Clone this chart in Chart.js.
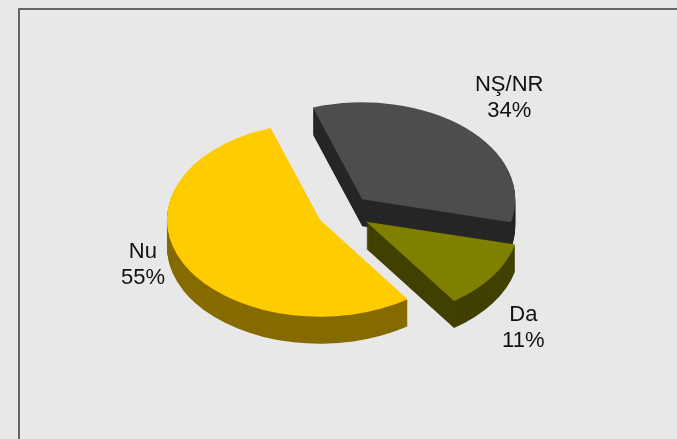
<!DOCTYPE html>
<html>
<head>
<meta charset="utf-8">
<style>
html,body{margin:0;padding:0;background:#e8e8e8;overflow:hidden}
#wrap{position:relative;width:677px;height:439px;overflow:hidden}
#frame{position:absolute;left:18px;top:8px;width:700px;height:500px;border:2px solid #666;box-sizing:border-box}
canvas{position:absolute;left:0;top:0}
</style>
</head>
<body>
<div id="wrap"><div id="frame"></div><canvas id="c" width="677" height="439"></canvas></div>
<script src="https://cdn.jsdelivr.net/npm/chart.js@4/dist/chart.umd.min.js"></script>
<script>
const categories = ['Da', 'Nu', 'NŞ/NR'];
const values = [11.5, 54.5, 34];
const percentLabels = ['11%', '55%', '34%'];
const topColors = ['#808000', '#FFCC00', '#4D4D4D'];
const wallColors = ['#404000', '#866B00', '#262626'];

const squash = 0.634;
const depth = 27;
const explode = 27;
const drawOrder = [2, 0, 1];
const labelShift = [[157, 93], [-177, 32], [147, -114]];

const pie3d = {
  id: 'pie3d',
  beforeDatasetDraw(chart, args) {
    const ctx = chart.ctx;
    const arcs = args.meta.data;
    const flat = (arc, dy, fn) => {
      const mid = (arc.startAngle + arc.endAngle) / 2;
      ctx.save();
      ctx.translate(Math.cos(mid) * explode, arc.y + Math.sin(mid) * explode * squash + dy);
      ctx.scale(1, squash);
      ctx.translate(0, -arc.y);
      fn();
      ctx.restore();
    };
    drawOrder.forEach(i => {
      const arc = arcs[i];
      const wall = Object.create(arc);
      wall.options = {...arc.options, backgroundColor: wallColors[i], borderWidth: 0};
      for (let d = depth; d > 0; d--) flat(arc, d, () => wall.draw(ctx));
      flat(arc, 0, () => arc.draw(ctx));
    });
    return false;
  },
  afterDatasetsDraw(chart) {
    const ctx = chart.ctx;
    const arcs = chart.getDatasetMeta(0).data;
    ctx.save();
    ctx.fillStyle = '#111';
    ctx.font = '22px "Liberation Sans", Arial, sans-serif';
    ctx.textAlign = 'center';
    ctx.textBaseline = 'middle';
    arcs.forEach((arc, i) => {
      const mid = (arc.startAngle + arc.endAngle) / 2;
      const x = arc.x + Math.cos(mid) * explode + labelShift[i][0];
      const y = arc.y + Math.sin(mid) * explode * squash + labelShift[i][1];
      ctx.fillText(categories[i], x, y);
      ctx.fillText(percentLabels[i], x, y + 26);
    });
    ctx.restore();
  }
};

new Chart(document.getElementById('c'), {
  type: 'pie',
  data: {
    labels: categories,
    datasets: [{
      data: values,
      backgroundColor: topColors,
      borderWidth: 0,
      clip: false
    }]
  },
  plugins: [pie3d],
  options: {
    responsive: false,
    animation: false,
    rotation: 103.6,
    radius: 153,
    layout: {padding: {left: 11, bottom: 15}},
    events: [],
    plugins: {legend: {display: false}, tooltip: {enabled: false}, title: {display: false}}
  }
});
</script>
</body>
</html>
